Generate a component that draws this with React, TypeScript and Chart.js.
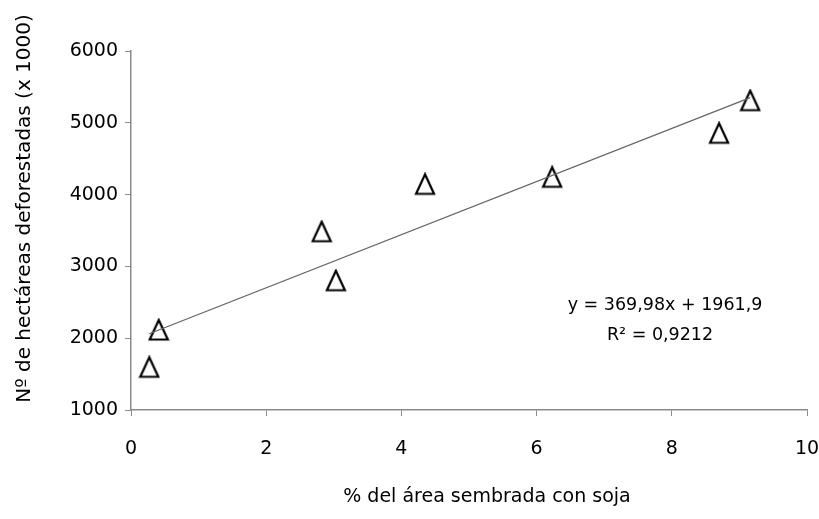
import React, { useEffect, useRef } from "react";
import { Chart, registerables } from "chart.js";

Chart.register(...registerables);

// ---- data ----
const xValues = [0.27, 0.41, 2.82, 3.03, 4.35, 6.23, 8.7, 9.16];
const yValues = [1595, 2114, 3483, 2801, 4143, 4241, 4854, 5308];
const xTickValues = [0, 2, 4, 6, 8, 10];
const yTickValues = [1000, 2000, 3000, 4000, 5000, 6000];
const trendSlope = 369.98;
const trendIntercept = 1961.9;
const equationText = "y = 369,98x + 1961,9";
const r2Text = "R\u00B2 = 0,9212";
const xTitle = "% del área sembrada con soja";
const yTitle = "Nº de hectáreas deforestadas (x 1000)";

const FONT = "'DejaVu Sans', sans-serif";
const AXIS_GRAY = "#8a8a8a";

function makeTriangle(): HTMLCanvasElement {
  const c = document.createElement("canvas");
  c.width = 22;
  c.height = 24;
  const ctx = c.getContext("2d")!;
  ctx.strokeStyle = "#000";
  ctx.lineWidth = 2.2;
  ctx.lineJoin = "miter";
  ctx.beginPath();
  ctx.moveTo(11, 2);
  ctx.lineTo(20, 21.5);
  ctx.lineTo(2, 21.5);
  ctx.closePath();
  ctx.stroke();
  return c;
}

const textPlugin = {
  id: "chartTexts",
  afterDraw(chart: any) {
    const { ctx, scales, chartArea } = chart;
    ctx.save();
    ctx.fillStyle = "#000";
    ctx.textAlign = "center";
    ctx.textBaseline = "middle";

    // trendline equation and R²
    const x = scales.x.getPixelForValue(7.9);
    const y1 = scales.y.getPixelForValue(2462);
    const y2 = scales.y.getPixelForValue(2045);
    ctx.font = `17.5px ${FONT}`;
    ctx.fillText(equationText, x, y1);
    ctx.fillText(r2Text, x - 5, y2);

    // x axis title
    ctx.font = `19px ${FONT}`;
    ctx.fillText(xTitle, (chartArea.left + chartArea.right) / 2 + 18, 497);

    // y axis title (rotated)
    ctx.font = `20px ${FONT}`;
    ctx.translate(25, (chartArea.top + chartArea.bottom) / 2 - 22);
    ctx.rotate(-Math.PI / 2);
    ctx.fillText(yTitle, 0, 0);
    ctx.restore();
  },
};

export default function App() {
  const ref = useRef<HTMLCanvasElement | null>(null);

  useEffect(() => {
    if (!ref.current) return;
    const xMin = Math.min(...xValues);
    const xMax = Math.max(...xValues);
    const tri = makeTriangle();
    const chart = new Chart(ref.current, {
      type: "scatter",
      data: {
        datasets: [
          {
            type: "line",
            label: "trend",
            data: [
              { x: xMin, y: trendSlope * xMin + trendIntercept },
              { x: xMax, y: trendSlope * xMax + trendIntercept },
            ],
            borderColor: "#666",
            borderWidth: 1.3,
            pointRadius: 0,
            fill: false,
          },
          {
            type: "scatter",
            label: "data",
            data: xValues.map((x, i) => ({ x, y: yValues[i] })),
            pointStyle: tri as any,
            pointRadius: 11,
          },
        ],
      },
      options: {
        responsive: false,
        animation: false,
        events: [],
        layout: { padding: { top: 51, right: 0, left: 0, bottom: 0 } },
        plugins: { legend: { display: false }, tooltip: { enabled: false } },
        scales: {
          x: {
            type: "linear",
            min: 0,
            max: 10,
            afterBuildTicks: (s: any) => {
              s.ticks = xTickValues.map((v) => ({ value: v }));
            },
            afterFit: (s: any) => {
              s.height = 109;
              s.paddingLeft = 0;
              s.paddingRight = 12;
            },
            grid: {
              display: true,
              drawOnChartArea: false,
              drawTicks: true,
              tickLength: 6,
              color: AXIS_GRAY,
            },
            border: { color: AXIS_GRAY, width: 1.5 },
            ticks: {
              color: "#000",
              font: { family: FONT, size: 19 },
              padding: 22,
              maxRotation: 0,
              callback: (v: any) => String(v),
            },
            title: { display: false, text: xTitle },
          },
          y: {
            type: "linear",
            min: 1000,
            max: 6000,
            afterBuildTicks: (s: any) => {
              s.ticks = yTickValues.map((v) => ({ value: v }));
            },
            afterFit: (s: any) => {
              s.width = 131;
            },
            grid: {
              display: true,
              drawOnChartArea: false,
              drawTicks: true,
              tickLength: 6,
              color: AXIS_GRAY,
            },
            border: { color: AXIS_GRAY, width: 1.5 },
            ticks: {
              color: "#000",
              font: { family: FONT, size: 19 },
              padding: 7,
              callback: (v: any) => String(v),
            },
            title: { display: false, text: yTitle },
          },
        },
      },
      plugins: [textPlugin],
    });
    return () => chart.destroy();
  }, []);

  return (
    <div style={{ position: "fixed", left: 0, top: 0, width: 819, height: 519, background: "#fff" }}>
      <canvas ref={ref} width={819} height={519} />
    </div>
  );
}
